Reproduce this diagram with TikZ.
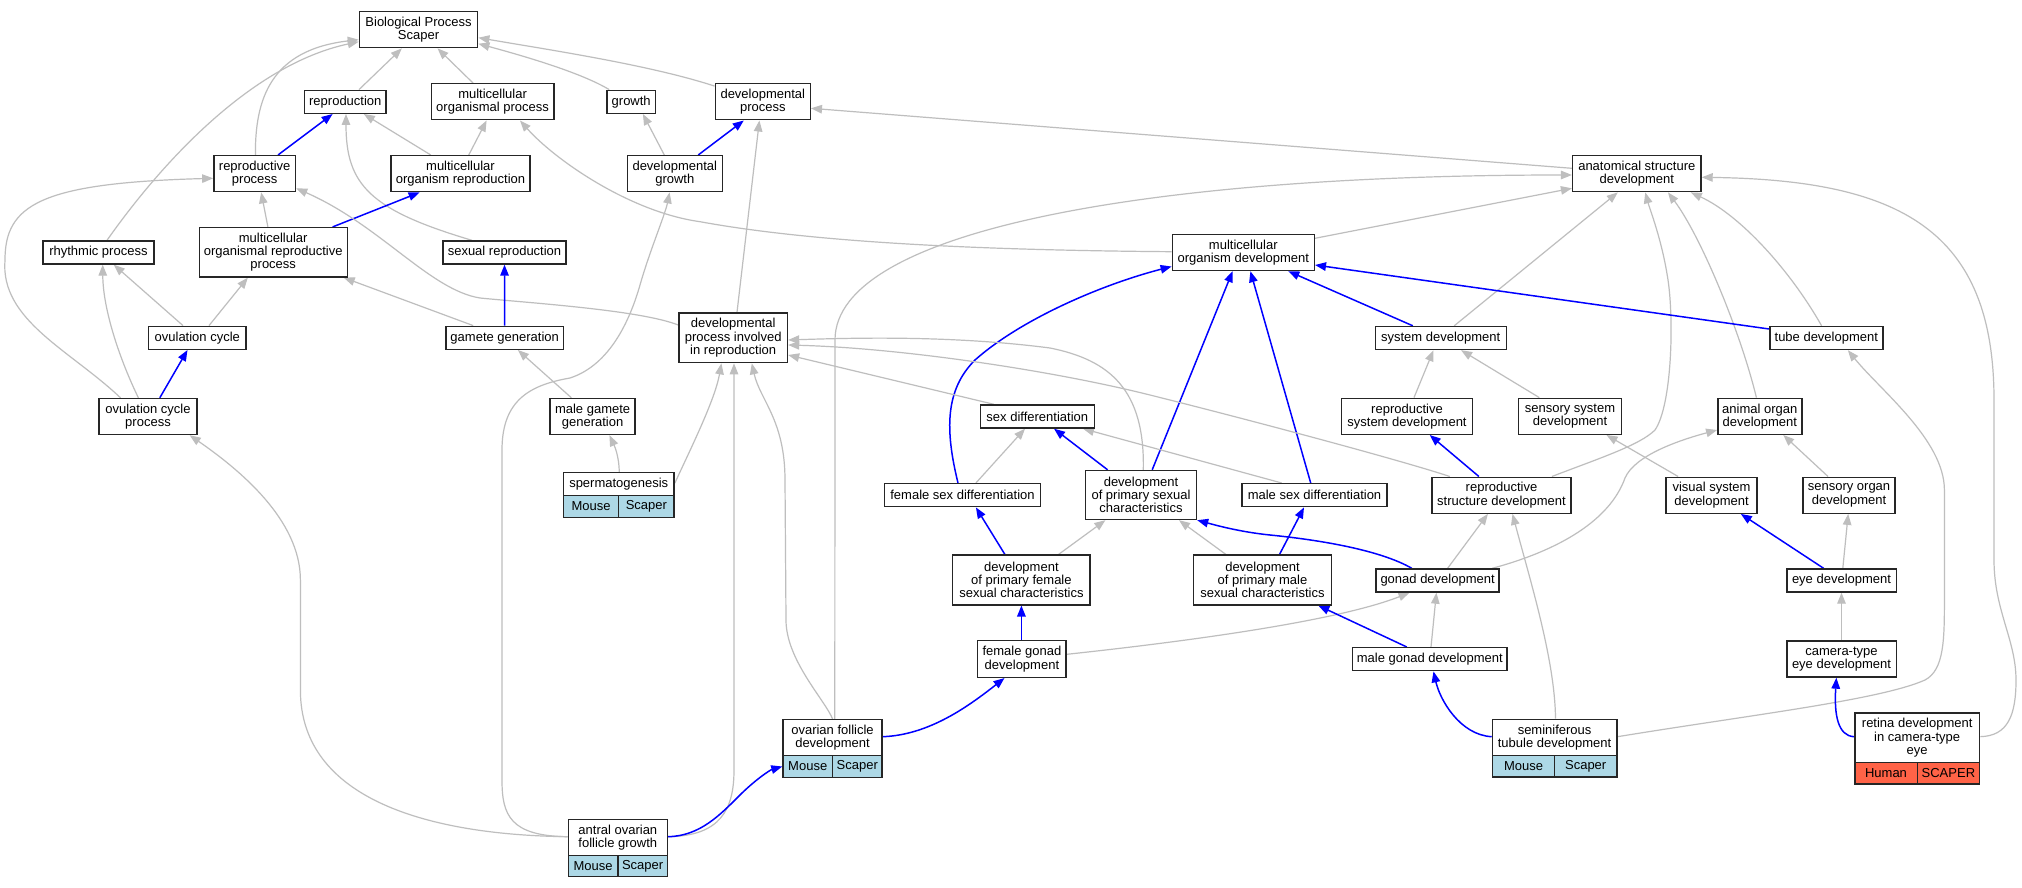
\documentclass[tikz,border=0pt]{standalone}
\usepackage{fontspec}
\setmainfont{Liberation Sans}
\usetikzlibrary{arrows.meta,calc,backgrounds}
\definecolor{eg}{HTML}{BEBEBE}
\definecolor{lb}{HTML}{ADD8E6}
\definecolor{tom}{HTML}{FF6347}
\begin{document}
\begin{tikzpicture}[x=1pt,y=-1pt,
  box/.style={draw=black!85,line width=1.4pt,fill=white,inner sep=0pt,align=center,font=\fontsize{13}{13.3}\selectfont},
  mcell/.style={box,fill=lb},
  hcell/.style={box,fill=tom},
  ge/.style={draw=eg,line width=1.2pt,-{Triangle[length=11pt,width=8.5pt]}},
  be/.style={draw=blue,line width=1.5pt,-{Triangle[length=11pt,width=8.5pt]}}]
\useasboundingbox (0,0) rectangle (2022,888);
% nodes
\node[box,minimum width=118.3pt,minimum height=36pt] (bps) at (418.55,29.7) {Biological Process\\Scaper};
\node[box,minimum width=81.7pt,minimum height=23pt] (repro) at (345.3,101.8) {reproduction};
\node[box,minimum width=122.7pt,minimum height=36pt] (mop) at (492.6,101.8) {multicellular\\organismal process};
\node[box,minimum width=48.4pt,minimum height=23pt] (growth) at (631.2,101.8) {growth};
\node[box,minimum width=95pt,minimum height=36pt] (devproc) at (762.8,101.8) {developmental\\process};
\node[box,minimum width=81.7pt,minimum height=36pt] (repproc) at (254.7,173.7) {reproductive\\process};
\node[box,minimum width=139pt,minimum height=36pt] (mor) at (460.5,173.7) {multicellular\\organism reproduction};
\node[box,minimum width=95pt,minimum height=36pt] (devgrowth) at (674.8,173.7) {developmental\\growth};
\node[box,minimum width=128.4pt,minimum height=36pt] (asd) at (1636.8,173.7) {anatomical structure\\development};
\node[box,minimum width=111pt,minimum height=23pt] (rhythm) at (98.4,252.5) {rhythmic process};
\node[box,minimum width=148pt,minimum height=49.3pt] (morp) at (273.2,252.3) {multicellular\\organismal reproductive\\process};
\node[box,minimum width=123pt,minimum height=23pt] (sexrep) at (504.5,252.5) {sexual reproduction};
\node[box,minimum width=142pt,minimum height=36pt] (mod) at (1243.3,252.5) {multicellular\\organism development};
\node[box,minimum width=97.3pt,minimum height=23pt] (ovc) at (197.3,337.8) {ovulation cycle};
\node[box,minimum width=117.4pt,minimum height=23pt] (gamgen) at (504.7,337.8) {gamete generation};
\node[box,minimum width=108.5pt,minimum height=49.7pt] (dpir) at (733.2,337.8) {developmental\\process involved\\in reproduction};
\node[box,minimum width=131pt,minimum height=23pt] (sysdev) at (1440.7,338) {system development};
\node[box,minimum width=113pt,minimum height=23pt] (tubedev) at (1826.3,338) {tube development};
\node[box,minimum width=98pt,minimum height=36pt] (ovcp) at (148,416.5) {ovulation cycle\\process};
\node[box,minimum width=85pt,minimum height=36pt] (mgg) at (592.6,416.5) {male gamete\\generation};
\node[box,minimum width=114pt,minimum height=23pt] (sexdiff) at (1037.3,416.5) {sex differentiation};
\node[box,minimum width=130.5pt,minimum height=36pt] (rsd) at (1407,416.3) {reproductive\\system development};
\node[box,minimum width=103pt,minimum height=36pt] (ssd) at (1570,416.3) {sensory system\\development};
\node[box,minimum width=84pt,minimum height=36pt] (aod) at (1759.8,416.3) {animal organ\\development};
\node[box,minimum width=110.7pt,minimum height=23pt] (sperm) at (618.75,484.2) {spermatogenesis};
\node[mcell,minimum width=55.35pt,minimum height=21.6pt] (spermM) at (591.1,506.5) {Mouse};
\node[mcell,minimum width=55.35pt,minimum height=21.6pt] (spermS) at (646.4,506.5) {Scaper};
\node[box,minimum width=156pt,minimum height=23pt] (fsd) at (962.5,495.2) {female sex differentiation};
\node[box,minimum width=111pt,minimum height=49pt] (dpsc) at (1141,495) {development\\of primary sexual\\characteristics};
\node[box,minimum width=145pt,minimum height=23pt] (msd) at (1314.5,495.2) {male sex differentiation};
\node[box,minimum width=139pt,minimum height=36pt] (rstd) at (1501.5,495.2) {reproductive\\structure development};
\node[box,minimum width=91pt,minimum height=36pt] (vsd) at (1711.5,495.2) {visual system\\development};
\node[box,minimum width=92pt,minimum height=36pt] (sod) at (1849,495.2) {sensory organ\\development};
\node[box,minimum width=137.5pt,minimum height=49.7pt] (dpfsc) at (1021.4,580) {development\\of primary female\\sexual characteristics};
\node[box,minimum width=137.5pt,minimum height=49.7pt] (dpmsc) at (1262.5,580) {development\\of primary male\\sexual characteristics};
\node[box,minimum width=123pt,minimum height=23pt] (gonad) at (1437.6,580.5) {gonad development};
\node[box,minimum width=109.4pt,minimum height=23pt] (eye) at (1841.5,580.5) {eye development};
\node[box,minimum width=88.4pt,minimum height=36.7pt] (fgd) at (1021.9,659) {female gonad\\development};
\node[box,minimum width=154.5pt,minimum height=23pt] (mgd) at (1429.8,659.2) {male gonad development};
\node[box,minimum width=109.4pt,minimum height=36pt] (cted) at (1841.5,659) {camera-type\\eye development};
\node[box,minimum width=99pt,minimum height=35.6pt] (ofd) at (832.5,737.5) {ovarian follicle\\development};
\node[mcell,minimum width=49.5pt,minimum height=22pt] (ofdM) at (807.75,766.3) {Mouse};
\node[mcell,minimum width=49.5pt,minimum height=22pt] (ofdS) at (857.25,766.3) {Scaper};
\node[box,minimum width=124.4pt,minimum height=36.4pt] (std) at (1554.6,737.5) {seminiferous\\tubule development};
\node[mcell,minimum width=62.2pt,minimum height=21.3pt] (stdM) at (1523.5,766.3) {Mouse};
\node[mcell,minimum width=62.2pt,minimum height=21.3pt] (stdS) at (1585.7,766.3) {Scaper};
\node[box,minimum width=124.8pt,minimum height=49.7pt] (ret) at (1917.2,737.85) {retina development\\in camera-type\\eye};
\node[hcell,minimum width=62.4pt,minimum height=21.3pt] (retH) at (1886,773.35) {Human};
\node[hcell,minimum width=62.4pt,minimum height=21.3pt] (retS) at (1948.4,773.35) {SCAPER};
\node[box,minimum width=99pt,minimum height=36pt] (aofg) at (617.85,837.3) {antral ovarian\\follicle growth};
\node[mcell,minimum width=49.5pt,minimum height=21.4pt] (aofgM) at (593.1,866) {Mouse};
\node[mcell,minimum width=49.5pt,minimum height=21.4pt] (aofgS) at (642.6,866) {Scaper};
% edges
\begin{scope}[on background layer]
\fill[white] (0,0) rectangle (2022,888);
\draw[ge] ($(repro.north)+(13.7,0)$) -- ($(bps.south)+(-16.7,0)$);
\draw[ge] ($(mop.north)+(-19.5,0)$) -- ($(bps.south)+(19,0)$);
\draw[ge] ($(growth.north)+(-22,0)$) .. controls (580,72) and (520,55) .. ($(bps.east)+(0,14)$);
\draw[ge] ($(devproc.north west)+(0,3)$) .. controls (650,65) and (550,50) .. ($(bps.east)+(0,8)$);
\draw[ge] ($(rhythm.north)+(8.6,0)$) .. controls (160,165) and (250,65) .. ($(bps.west)+(0,12)$);
\draw[ge] ($(repproc.north)+(0.7,0)$) .. controls (255,100) and (270,50) .. ($(bps.west)+(0,10)$);
\draw[be] ($(repproc.north)+(23.3,0)$) -- ($(repro.south)+(-12.7,0)$);
\draw[ge] ($(mor.north)+(-29.7,0)$) -- ($(repro.south)+(18.5,0)$);
\draw[ge] ($(mor.north)+(8.25,0)$) -- ($(mop.south)+(-6,0)$);
\draw[ge] ($(sexrep.north)+(-32.6,0)$) .. controls (370,210) and (346,185) .. ($(repro.south)+(0.7,0)$);
\draw[ge] ($(morp.north)+(-5.3,0)$) -- ($(repproc.south)+(6.5,0)$);
\draw[be] ($(morp.north)+(59.4,0)$) -- ($(mor.south)+(-40.9,0)$);
\draw[ge] ($(devgrowth.north)+(-10.5,0)$) -- ($(growth.south)+(11.7,0)$);
\draw[be] ($(devgrowth.north)+(23.4,0)$) -- ($(devproc.south)+(-19,0)$);
\draw[ge] ($(mod.west)+(0,-0.8)$) .. controls (950,250) and (800,240) .. (700,221.7) .. controls (630,212) and (555,160) .. ($(mop.south)+(27.4,0)$);
\draw[ge] ($(asd.west)+(0,-5.4)$) -- ($(devproc.east)+(0,6.5)$);
\draw[ge] ($(mod.east)+(0,-14.2)$) -- ($(asd.west)+(0,14.6)$);
\draw[ge] ($(ofd.north)+(2.3,0)$) -- (835,340) .. controls (835,230) and (1150,175) .. ($(asd.west)+(0,1.3)$);
\draw[ge] ($(sysdev.north)+(13.5,0)$) -- ($(asd.south)+(-19,0)$);
\draw[ge] ($(rstd.north)+(50.4,0)$) .. controls (1600,458) and (1640,445) .. (1655,430) .. controls (1672,405) and (1674,320) .. (1668,280) .. controls (1662,240) and (1650,210) .. ($(asd.south)+(8.5,0)$);
\draw[ge] ($(aod.north)+(-3.4,0)$) .. controls (1740,330) and (1700,235) .. ($(asd.south)+(31.2,0)$);
\draw[ge] ($(tubedev.north)+(-4.7,0)$) .. controls (1790,270) and (1740,215) .. ($(asd.south)+(54,0)$);
\draw[ge] ($(ret.east)+(0,-1.2)$) .. controls (2008,736) and (2016,715) .. (2016,680) .. controls (2016,640) and (1994,610) .. (1994,560) -- (1994,400) .. controls (1994,230) and (1900,180) .. ($(asd.east)+(0,3.6)$);
\draw[be] ($(sysdev.north)+(-27.9,0)$) -- ($(mod.south)+(45,0)$);
\draw[be] ($(tubedev.west)+(0,-9)$) -- ($(mod.east)+(0,12.5)$);
\draw[be] ($(fsd.north)+(-4.5,0)$) .. controls (945,430) and (945,390) .. (975,360) .. controls (1020,320) and (1100,285) .. ($(mod.west)+(0,14)$);
\draw[be] ($(dpsc.north)+(11.2,0)$) -- ($(mod.south)+(-10.7,0)$);
\draw[be] ($(msd.north)+(-3.8,0)$) -- ($(mod.south)+(7.1,0)$);
\draw[ge] ($(dpir.north)+(3.8,0)$) -- ($(devproc.south)+(-3.4,0)$);
\draw[ge] ($(dpir.west)+(0,-12.8)$) .. controls (640,310) and (530,303) .. (480,298) .. controls (430,290) and (380,225) .. ($(repproc.east)+(0,14.6)$);
\draw[ge] ($(gamgen.north)+(-31.5,0)$) -- ($(morp.south)+(70.5,0)$);
\draw[be] (gamgen.north) -- (sexrep.south);
\draw[ge] ($(ovc.north)+(-14.3,0)$) -- ($(rhythm.south)+(15.4,0)$);
\draw[ge] ($(ovc.north)+(11.7,0)$) -- ($(morp.south)+(-25.4,0)$);
\draw[ge] ($(ovcp.north)+(-9.6,0)$) .. controls (120,360) and (103,310) .. ($(rhythm.south)+(4.3,0)$);
\draw[be] ($(ovcp.north)+(11.8,0)$) -- ($(ovc.south)+(-9.8,0)$);
\draw[ge] ($(ovcp.north)+(-27.5,0)$) .. controls (70,350) and (0,320) .. (5,260) .. controls (5,205) and (40,183) .. ($(repproc.west)+(0,4.6)$);
\draw[ge] ($(aofg.west)+(0,-0.6)$) .. controls (430,835) and (300.4,800) .. (300.4,690) -- (300.4,580) .. controls (300.4,520) and (240,470) .. ($(ovcp.south)+(41.7,0)$);
\draw[ge] ($(aofg.west)+(0,-0.6)$) .. controls (510,836) and (502,815) .. (502,780) -- (502,450) .. controls (502,400) and (530,385) .. (570,378) .. controls (610,365) and (630,320) .. (640,285) .. controls (650,250) and (665,215) .. ($(devgrowth.south)+(-5.2,0)$);
\draw[ge] ($(aofg.east)+(0,-0.6)$) .. controls (720,836) and (734,810) .. (734,770) -- ($(dpir.south)+(0.8,0)$);
\draw[ge] ($(ofd.north)+(0.1,0)$) .. controls (825,700) and (786,660) .. (786,620) -- (785,480) .. controls (785,420) and (760,400) .. ($(dpir.south)+(18.6,0)$);
\draw[ge] ($(sperm.north)+(0.5,0)$) .. controls (619,455) and (614,445) .. ($(mgg.south)+(16.8,0)$);
\draw[ge] ($(sperm.east)+(0,-1)$) .. controls (690,450) and (715,400) .. ($(dpir.south)+(-11.8,0)$);
\draw[ge] ($(mgg.north)+(-21.2,0)$) -- ($(gamgen.south)+(13.2,0)$);
\draw[ge] ($(sexdiff.north)+(-43.5,0)$) -- ($(dpir.east)+(0,17.2)$);
\draw[ge] ($(dpsc.north)+(2.3,0)$) .. controls (1145,390) and (1110,360) .. (1050,348) .. controls (950,335) and (850,338) .. ($(dpir.east)+(0,2.2)$);
\draw[ge] ($(rstd.north)+(-51.7,0)$) .. controls (1400,460) and (1250,420) .. (1150,395) .. controls (1050,370) and (900,348) .. ($(dpir.east)+(0,7.2)$);
\draw[ge] ($(fsd.north)+(13.4,0)$) -- ($(sexdiff.south)+(-12.3,0)$);
\draw[be] ($(dpsc.north)+(-33.4,0)$) -- ($(sexdiff.south)+(16.7,0)$);
\draw[ge] ($(msd.north)+(-32.8,0)$) -- ($(sexdiff.south)+(45.7,0)$);
\draw[be] ($(dpfsc.north)+(-16.5,0)$) -- ($(fsd.south)+(13.4,0)$);
\draw[ge] ($(dpfsc.north)+(37.1,0)$) -- ($(dpsc.south)+(-35.6,0)$);
\draw[ge] ($(dpmsc.north)+(-36.6,0)$) -- ($(dpsc.south)+(38,0)$);
\draw[be] ($(dpmsc.north)+(17,0)$) -- ($(msd.south)+(-10.5,0)$);
\draw[be] ($(gonad.north)+(-25.8,0)$) .. controls (1380,550) and (1320,540) .. (1270,535) .. controls (1240,532) and (1215,525) .. (dpsc.south east);
\draw[ge] ($(gonad.north)+(10,0)$) -- ($(rstd.south)+(-13.6,0)$);
\draw[ge] ($(gonad.north)+(54.7,0)$) .. controls (1560,550) and (1610,520) .. (1625,478) .. controls (1635,455) and (1680,440) .. ($(aod.west)+(0,13.7)$);
\draw[ge] ($(fgd.east)+(0,-4.7)$) .. controls (1200,640) and (1340,620) .. ($(gonad.south)+(-28.1,0)$);
\draw[be] ($(fgd.north)+(-0.5,0)$) -- (dpfsc.south);
\draw[ge] ($(mgd.north)+(1.2,0)$) -- ($(gonad.south)+(-1.2,0)$);
\draw[be] ($(mgd.north)+(-23,0)$) -- ($(dpmsc.south)+(55.8,0)$);
\draw[be] ($(rstd.north)+(-22.6,0)$) -- ($(rsd.south)+(22.7,0)$);
\draw[ge] ($(rsd.north)+(7,0)$) -- ($(sysdev.south)+(-7.2,0)$);
\draw[ge] ($(ssd.north)+(-30.7,0)$) -- ($(sysdev.south)+(20.4,0)$);
\draw[ge] ($(std.north)+(0.9,0)$) .. controls (1555,660) and (1530,580) .. ($(rstd.south)+(11,0)$);
\draw[be] ($(std.west)+(0,-0.8)$) .. controls (1460,735) and (1440,700) .. ($(mgd.south)+(3.7,0)$);
\draw[ge] ($(std.east)+(0,-0.8)$) .. controls (1750,715) and (1880,700) .. (1925,680) .. controls (1944,670) and (1944.4,640) .. (1944.4,600) -- (1944.4,490) .. controls (1944.4,440) and (1880,390) .. ($(tubedev.south)+(21.6,0)$);
\draw[ge] ($(vsd.north)+(-33.4,0)$) -- ($(ssd.south)+(36.5,0)$);
\draw[ge] ($(sod.north)+(-21,0)$) -- ($(aod.south)+(23.5,0)$);
\draw[be] ($(eye.north)+(-17.9,0)$) -- ($(vsd.south)+(29.3,0)$);
\draw[ge] ($(eye.north)+(1.3,0)$) -- ($(sod.south)+(-0.8,0)$);
\draw[ge] (cted.north) -- (eye.south);
\draw[be] ($(ret.west)+(0,-1.15)$) .. controls (1838,736) and (1834,715) .. ($(cted.south)+(-5.1,0)$);
\draw[be] ($(aofg.east)+(0,-0.6)$) .. controls (700,836) and (720,815) .. (740,795) .. controls (755,780) and (770,770) .. ($(ofd.west)+(0,29)$);
\draw[be] ($(ofd.east)+(0,-0.8)$) .. controls (930,735) and (970,705) .. ($(fgd.south)+(-17.4,0)$);
\end{scope}
\end{tikzpicture}
\end{document}
